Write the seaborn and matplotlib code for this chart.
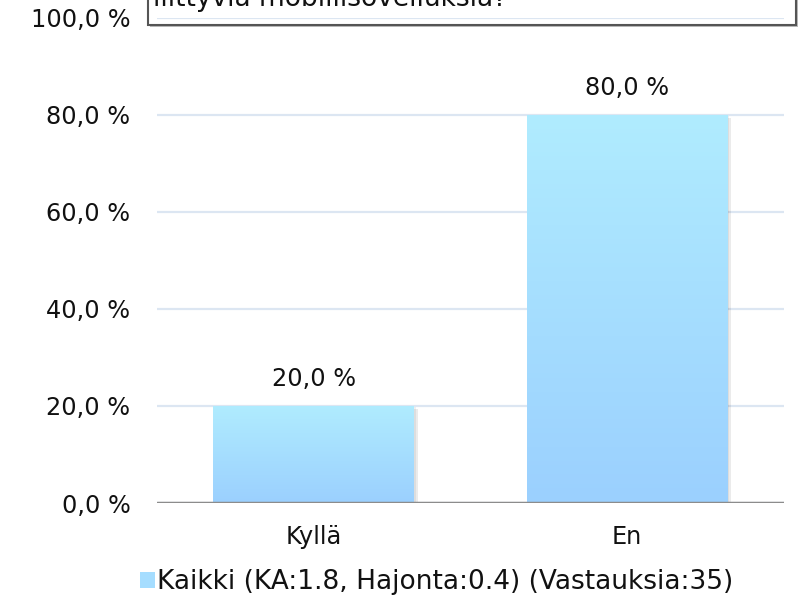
import matplotlib
matplotlib.use("Agg")
import matplotlib.pyplot as plt
import matplotlib.patheffects as pe
import seaborn as sns
import numpy as np
import pandas as pd
from matplotlib.colors import LinearSegmentedColormap
from matplotlib.patches import Rectangle, Patch

# ---- data ----
categories = ["Kyllä", "En"]
values = [20.0, 80.0]
value_labels = ["20,0 %", "80,0 %"]
y_ticks = [0, 20, 40, 60, 80, 100]
y_tick_labels = ["0,0 %", "20,0 %", "40,0 %", "60,0 %", "80,0 %", "100,0 %"]
legend_label = "Kaikki (KA:1.8, Hajonta:0.4) (Vastauksia:35)"
title_visible = "liittyviä mobiilisovelluksia?"

sns.set_theme(style="white")
plt.rcParams['font.family'] = ['DejaVu Sans']

W, H = 798, 605
fig = plt.figure(figsize=(W / 100, H / 100), dpi=100)
fig.patch.set_facecolor("white")

ax = fig.add_axes([157 / W, 1 - 503 / H, (783.5 - 157) / W, (503 - 18) / H])
ax.patch.set_alpha(0)

df = pd.DataFrame({"cat": categories, "val": values})
sns.barplot(data=df, x="cat", y="val", ax=ax, width=0.64, color="#A5DDFF",
            saturation=1, zorder=3)

FS = 17.3
ax.set_xlim(-0.5, 1.5)
ax.set_ylim(0, 100)
ax.set_yticks(y_ticks)
ax.set_yticklabels(y_tick_labels)
ax.set_xlabel("")
ax.set_ylabel("")
ax.tick_params(axis="y", length=0, pad=19, labelsize=FS, colors="#111111")
ax.tick_params(axis="x", length=0, pad=16, labelsize=FS, colors="#111111")
for s in ax.spines.values():
    s.set_visible(False)
ax.yaxis.grid(True, color="#DCE6F2", lw=1.6, zorder=0)
ax.set_axisbelow(True)
ax.axhline(0, color="#8C8C8C", lw=2.5, zorder=6)

# gradient fill + soft shadow on bars
cmap = LinearSegmentedColormap.from_list("g", ["#9BD0FE", "#B0ECFF"])
grad = np.linspace(0, 1, 256).reshape(-1, 1)
for p in ax.patches:
    x0, y0 = p.get_x(), p.get_y()
    w, h = p.get_width(), p.get_height()
    p.set_edgecolor("none")
    p.set_path_effects([
        pe.SimplePatchShadow(offset=(3, -2), shadow_rgbFace="#000000", alpha=0.08),
        pe.SimplePatchShadow(offset=(1.5, -1), shadow_rgbFace="#000000", alpha=0.06),
        pe.Normal()])
    im = ax.imshow(grad, cmap=cmap, origin="lower", aspect="auto",
                   extent=[x0, x0 + w, y0, y0 + h], zorder=4)
    im.set_clip_path(p)

ax.set_xlim(-0.5, 1.5)
ax.set_ylim(0, 100)

ax.bar_label(ax.containers[0], labels=value_labels, padding=11,
             fontsize=FS, color="#111111")

# title box (clipped at top)
shadow = Rectangle((150 / W, 1 - 27 / H), 649 / W, 60 / H, transform=fig.transFigure,
                   facecolor="#BBBBBB", edgecolor="none", zorder=-3)
box = Rectangle((148 / W, 1 - 25 / H), 648 / W, 60 / H, transform=fig.transFigure,
                facecolor="white", edgecolor="#555555", lw=1.5, zorder=-2)
fig.patches.extend([shadow, box])
fig.text(153 / W, 1 - 6 / H, title_visible, fontsize=19, family="DejaVu Sans",
         va="baseline", ha="left", color="#111111", zorder=5)

# legend
handle = Patch(facecolor="#A5DDFF", edgecolor="none")
fig.legend(handles=[handle], labels=[legend_label], loc="center",
           bbox_to_anchor=(437 / W, 1 - 582 / H), frameon=False,
           fontsize=19, handlelength=0.55, handleheight=0.55, handletextpad=0.1,
           labelcolor="#111111")

fig.savefig("out.png", dpi=100)
